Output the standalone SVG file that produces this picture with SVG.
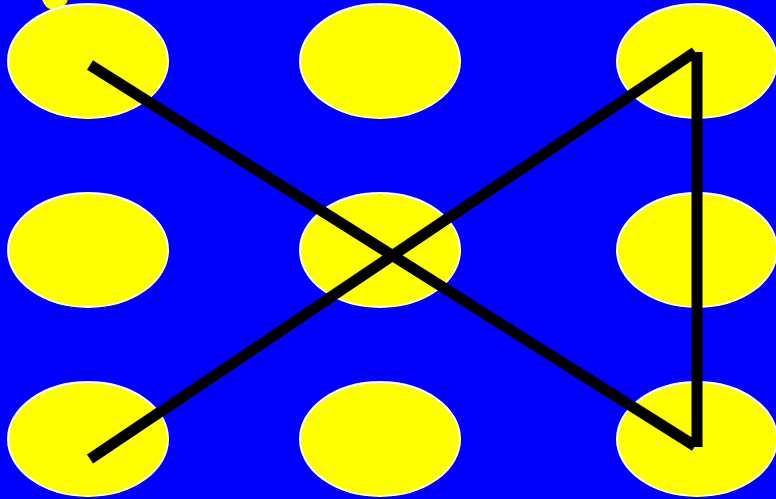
<svg xmlns="http://www.w3.org/2000/svg" width="776" height="499" viewBox="0 0 776 499">
<style>
.n{fill:#ffff00;stroke:#ffffff;stroke-width:2}
.c{stroke:#000000;stroke-width:11;stroke-linecap:butt;fill:none}
</style>
<rect x="0" y="0" width="776" height="499" fill="#0000ff"/>
<circle cx="55" cy="-3" r="13" fill="#ffff00"/>
<g id="n1"><ellipse class="n" cx="88" cy="61" rx="80" ry="57"/></g>
<g id="n2"><ellipse class="n" cx="380" cy="61" rx="80" ry="57"/></g>
<g id="n3"><ellipse class="n" cx="697" cy="61" rx="80" ry="57"/></g>
<g id="n4"><ellipse class="n" cx="88" cy="250" rx="80" ry="57"/></g>
<g id="n5"><ellipse class="n" cx="380" cy="250" rx="80" ry="57"/></g>
<g id="n6"><ellipse class="n" cx="697" cy="250" rx="80" ry="57"/></g>
<g id="n7"><ellipse class="n" cx="88" cy="439" rx="80" ry="57"/></g>
<g id="n8"><ellipse class="n" cx="380" cy="439" rx="80" ry="57"/></g>
<g id="n9"><ellipse class="n" cx="697" cy="439" rx="80" ry="57"/></g>
<g id="connectors">
<line class="c" x1="90" y1="65" x2="695" y2="446"/>
<line class="c" x1="90" y1="459" x2="695" y2="52"/>
<line class="c" x1="697" y1="52" x2="697" y2="447"/>
</g>
</svg>
